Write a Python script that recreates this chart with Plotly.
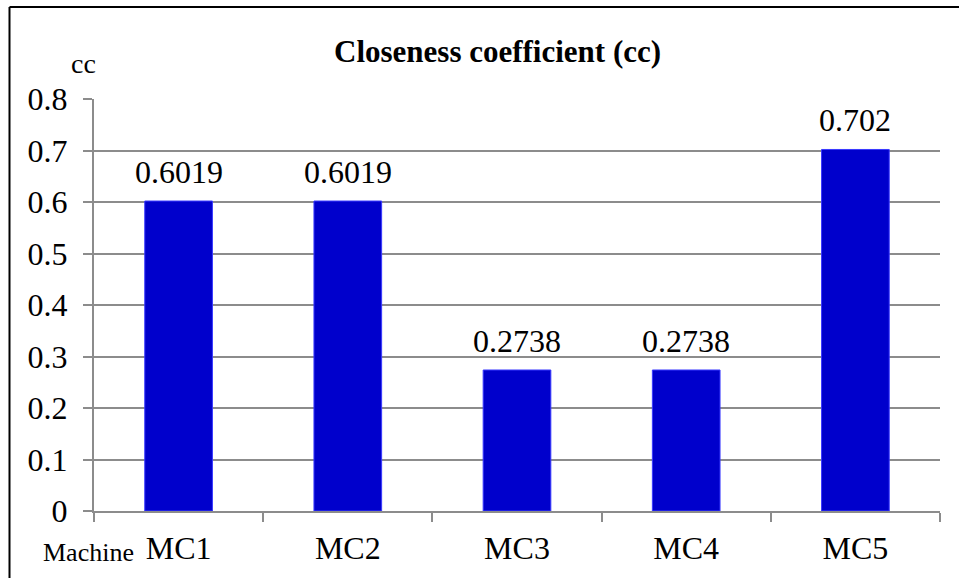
import plotly.graph_objects as go

machines = ["MC1", "MC2", "MC3", "MC4", "MC5"]
cc_values = [0.6019, 0.6019, 0.2738, 0.2738, 0.702]
y_ticks = [0, 0.1, 0.2, 0.3, 0.4, 0.5, 0.6, 0.7, 0.8]

W, H = 959, 578
L, R, T, B = 94, 19, 99, 67
pw, ph = W - L - R, H - T - B


def px_x(x):
    return (x - L) / pw


def px_y(y):
    return (H - B - y) / ph


serif = "'Times New Roman', 'Liberation Serif', 'DejaVu Serif', serif"
grid = "#8c8c8c"

fig = go.Figure(
    go.Bar(
        x=machines,
        y=cc_values,
        marker=dict(color="#0000cc", line=dict(color="#3a3aff", width=1)),
        width=0.4,
    )
)

# value labels above each bar
value_labels = [
    dict(x=m, y=v, xref="x", yref="y", text=str(v), showarrow=False,
         xanchor="center", yanchor="bottom", yshift=9,
         font=dict(family=serif, size=32, color="black"))
    for m, v in zip(machines, cc_values)
]

fig.update_layout(
    width=W,
    height=H,
    margin=dict(l=L, r=R, t=T, b=B),
    paper_bgcolor="white",
    plot_bgcolor="white",
    showlegend=False,
    font=dict(family=serif, color="black"),
    xaxis=dict(
        showgrid=False,
        showline=True,
        linecolor=grid,
        linewidth=2,
        ticks="outside",
        tickson="boundaries",
        ticklen=9,
        tickwidth=2,
        tickcolor=grid,
        tickfont=dict(family=serif, size=32),
        ticklabelstandoff=8,
    ),
    yaxis=dict(
        range=[0, 0.8],
        tickvals=y_ticks,
        ticktext=[f"{v:g}" for v in y_ticks],
        showgrid=True,
        gridcolor=grid,
        gridwidth=2,
        showline=True,
        linecolor=grid,
        linewidth=2,
        ticks="outside",
        ticklen=9,
        tickwidth=2,
        tickcolor=grid,
        tickfont=dict(family=serif, size=32),
        ticklabelstandoff=9,
        zeroline=False,
    ),
    annotations=value_labels + [
        dict(text="<b>Closeness coefficient (cc)</b>", xref="paper", yref="paper",
             x=px_x(497), y=px_y(52), xanchor="center", yanchor="middle",
             showarrow=False,
             font=dict(family=serif, size=31, color="black")),
        dict(text="cc", xref="paper", yref="paper",
             x=px_x(83), y=px_y(64), xanchor="center", yanchor="middle",
             showarrow=False, font=dict(family=serif, size=28)),
        dict(text="Machine", xref="paper", yref="paper",
             x=px_x(88.5), y=px_y(552), xanchor="center", yanchor="middle",
             showarrow=False, font=dict(family=serif, size=26)),
    ],
    shapes=[
        dict(type="line", xref="paper", yref="paper",
             x0=px_x(9.5), x1=px_x(W + 5), y0=px_y(7), y1=px_y(7),
             line=dict(color="black", width=2)),
        dict(type="line", xref="paper", yref="paper",
             x0=px_x(9.5), x1=px_x(9.5), y0=px_y(7), y1=px_y(H + 5),
             line=dict(color="black", width=2)),
    ],
)

fig.write_html("out.html")
